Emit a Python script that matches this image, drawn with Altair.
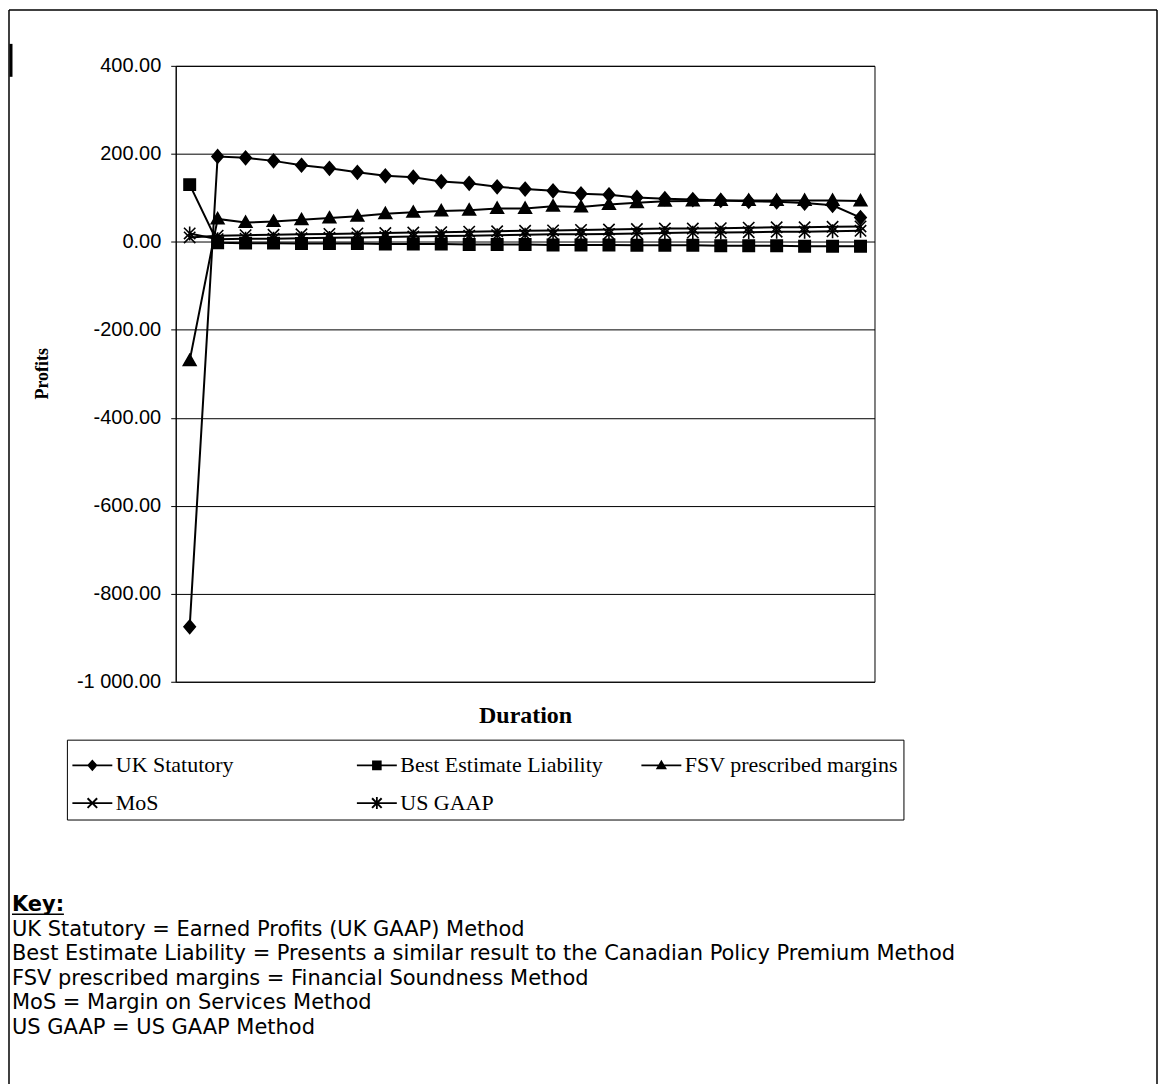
import altair as alt
import pandas as pd

# ---------------- data ----------------
durations = list(range(1, 26))
series_names = ["UK Statutory", "Best Estimate Liability", "FSV prescribed margins", "MoS", "US GAAP"]

uk_statutory = [-875, 194, 191, 184, 174, 167, 158, 150, 147, 137, 133, 125, 120, 116, 109,
                107, 101, 98, 96, 94, 92, 91, 88, 83, 55]
best_estimate = [130, -2, -3, -3, -4, -4, -4, -5, -5, -5, -6, -6, -6, -7, -7,
                 -7, -8, -8, -8, -9, -9, -9, -10, -10, -10]
fsv_margins = [-270, 52, 44, 46, 50, 54, 58, 64, 67, 70, 72, 76, 76, 81, 79,
               85, 89, 92, 93, 94, 94, 94, 94, 94, 93]
mos = [10, 14, 15, 16, 17, 18, 19, 20, 21, 22, 23, 24, 25, 26, 27,
       28, 29, 30, 30, 31, 32, 33, 33, 34, 35]
us_gaap = [19, 6, 7, 7, 8, 9, 10, 11, 12, 13, 14, 15, 16, 17, 17,
           18, 19, 20, 21, 21, 22, 23, 23, 24, 25]

y_ticks = [-1000, -800, -600, -400, -200, 0, 200, 400]
x_title = "Duration"
y_title = "Profits"
key_title = "Key:"
key_lines = [
    "UK Statutory = Earned Profits (UK GAAP) Method",
    "Best Estimate Liability = Presents a similar result to the Canadian Policy Premium Method",
    "FSV prescribed margins = Financial Soundness Method",
    "MoS = Margin on Services Method",
    "US GAAP = US GAAP Method",
]

# ---------------- table ----------------
rows = []
for name, vals in zip(series_names, [uk_statutory, best_estimate, fsv_margins, mos, us_gaap]):
    for d, v in zip(durations, vals):
        rows.append({"series": name, "duration": d, "profit": v})
df = pd.DataFrame(rows)
one = pd.DataFrame({"k": [0]})

# marker shapes in the plot
marker_paths = [
    "M0,-1.05L0.9,0L0,1.05L-0.9,0Z",
    "M-0.9,-0.9L0.9,-0.9L0.9,0.9L-0.9,0.9Z",
    "M0,-1L1,0.75L-1,0.75Z",
    "M-0.9,-0.9L0.9,0.9M-0.9,0.9L0.9,-0.9",
    "M-0.9,-0.9L0.9,0.9M-0.9,0.9L0.9,-0.9M0,-1.1L0,1.1",
]
# legend symbols: a line with the marker on it (drawn as filled shapes)
LINE = "M-1,-0.045L1,-0.045L1,0.045L-1,0.045Z"
XBARS = ("M-0.205,-0.275L0.275,0.205L0.205,0.275L-0.275,-0.205Z"
         "M-0.275,0.205L0.205,-0.275L0.275,-0.205L-0.205,0.275Z")
legend_paths = [
    LINE + "M0,-0.3L0.26,0L0,0.3L-0.26,0Z",
    LINE + "M-0.24,-0.24L0.24,-0.24L0.24,0.24L-0.24,0.24Z",
    LINE + "M0,-0.28L0.28,0.2L-0.28,0.2Z",
    LINE + XBARS,
    LINE + XBARS + "M-0.045,-0.3L0.045,-0.3L0.045,0.3L-0.045,0.3Z",
]

label_expr = "(datum.value < 0 ? '-' : '') + replace(format(abs(datum.value), ',.2f'), ',', ' ')"

x_enc = alt.X(
    "duration:O",
    scale=alt.Scale(type="point", padding=0.5),
    axis=alt.Axis(labels=False, ticks=False, domain=False, grid=False,
                  title=x_title, titleFont="Liberation Serif", titleFontSize=24,
                  titleFontWeight="bold", titleColor="black",
                  titleX=350, titleY=34, titleAlign="center", titleBaseline="middle"),
)
y_enc = alt.Y(
    "profit:Q",
    scale=alt.Scale(domain=[-1000, 400], nice=False, zero=False),
    axis=alt.Axis(values=y_ticks, labelExpr=label_expr, labelFont="Liberation Sans",
                  labelFontSize=20, labelColor="black", labelPadding=10,
                  tickSize=5, tickColor="black", domainColor="black",
                  grid=True, gridColor="black", gridWidth=1,
                  title=y_title, titleFont="Liberation Serif", titleFontSize=18,
                  titleFontWeight="bold", titleColor="black", titleAngle=270,
                  titleX=-133, titleY=308, titleAlign="center", titleBaseline="middle"),
)

lines = alt.Chart(df).mark_line(color="black", strokeWidth=2).encode(
    x=x_enc, y=y_enc, detail="series:N"
)

points = alt.Chart(df).mark_point(
    filled=True, fill="black", stroke="black", strokeWidth=1.6, size=160, opacity=1
).encode(
    x=x_enc, y=y_enc,
    shape=alt.Shape("series:N", scale=alt.Scale(domain=series_names, range=marker_paths), legend=None),
)

legend_layer = alt.Chart(df).mark_point(
    filled=True, fill="black", stroke="black", size=1, opacity=0
).encode(
    x=x_enc, y=y_enc,
    shape=alt.Shape(
        "series:N",
        scale=alt.Scale(domain=series_names, range=legend_paths),
        legend=alt.Legend(
            title=None, orient="none", legendX=-109, legendY=675,
            direction="horizontal", columns=3, gridAlign="all",
            labelFont="Liberation Serif", labelFontSize=22, labelColor="black",
            labelLimit=500, labelOffset=3,
            symbolSize=1600, symbolStrokeWidth=1, symbolStrokeColor="black",
            symbolFillColor="black", symbolOpacity=1,
            padding=5, rowPadding=6, columnPadding=25,
            strokeColor="black", fillColor="white",
        ),
    ),
)

# outer frame and scan mark (decoration)
frame_left = alt.Chart(one).mark_rule(color="black", strokeWidth=1.5).encode(
    x=alt.value(-167), y=alt.value(-56), y2=alt.value(1020))
frame_right = alt.Chart(one).mark_rule(color="black", strokeWidth=1.5).encode(
    x=alt.value(983), y=alt.value(-56), y2=alt.value(1020))
frame_top = alt.Chart(one).mark_rule(color="black", strokeWidth=1.5).encode(
    x=alt.value(-167), x2=alt.value(983), y=alt.value(-56))
scan_mark = alt.Chart(one).mark_rule(color="black", strokeWidth=3).encode(
    x=alt.value(-165), y=alt.value(-22), y2=alt.value(11))

key_head = alt.Chart(one).mark_text(
    text=key_title, font="DejaVu Sans", fontSize=21, fontWeight="bold",
    align="left", baseline="alphabetic", color="black"
).encode(x=alt.value(-164), y=alt.value(847))
key_underline = alt.Chart(one).mark_rule(color="black", strokeWidth=1.5).encode(
    x=alt.value(-164), x2=alt.value(-112), y=alt.value(850))
key_body = alt.Chart(one).mark_text(
    text=key_lines, font="DejaVu Sans", fontSize=21, lineHeight=24.5,
    align="left", baseline="alphabetic", color="black"
).encode(x=alt.value(-164), y=alt.value(871.5))

chart = alt.layer(
    lines, points, legend_layer,
    frame_left, frame_right, frame_top, scan_mark,
    key_head, key_underline, key_body,
).resolve_scale(shape="independent").properties(
    width=700, height=617, padding=0, background="white"
).configure_view(stroke="black", strokeWidth=1)

chart.save("out.html", embed_options={"renderer": "svg", "actions": False})
